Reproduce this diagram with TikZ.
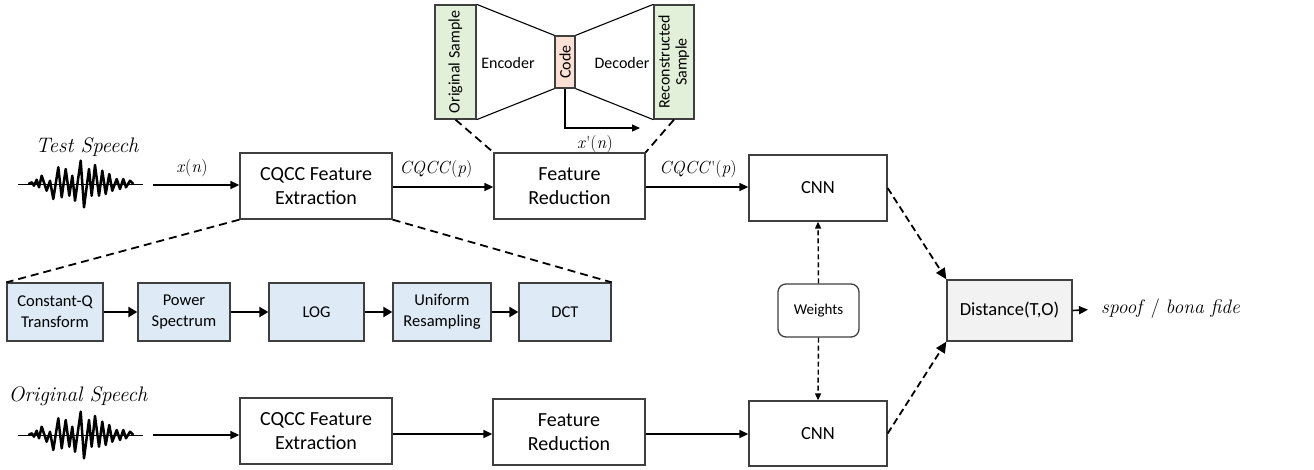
\documentclass[tikz,border=0pt]{standalone}
\usepackage{fontspec}
\setsansfont{Carlito}
\usetikzlibrary{arrows.meta}
\definecolor{bordc}{HTML}{3F3F3F}
\definecolor{bluef}{HTML}{DEEBF7}
\definecolor{greenf}{HTML}{E2F0D9}
\definecolor{peachf}{HTML}{FBE0D5}
\definecolor{grayf}{HTML}{F2F2F2}
\tikzset{
 mbox/.style={draw=bordc, line width=1.3pt, fill=white, align=center, inner sep=0pt,
   font=\sffamily\fontsize{20}{24}\selectfont},
 cbox/.style={mbox, font=\sffamily\fontsize{18.5}{22}\selectfont},
 bbox/.style={draw=bordc, line width=1.3pt, fill=bluef, align=center, inner sep=0pt,
   minimum height=58pt, font=\sffamily\fontsize{16.5}{21}\selectfont},
 aebox/.style={draw=bordc, line width=1.3pt, inner sep=0pt, align=center,
   font=\sffamily\fontsize{16}{20}\selectfont},
 aetext/.style={inner sep=0pt, font=\sffamily\fontsize{16}{20}\selectfont},
 lbl/.style={inner sep=0pt, font=\fontsize{17.5}{20}\selectfont},
 biglbl/.style={inner sep=0pt, font=\fontsize{21}{24}\selectfont\itshape},
 arr/.style={line width=1.6pt, -{Triangle[length=9pt,width=8pt]}},
 thinarr/.style={line width=1.2pt, -{Triangle[length=8pt,width=7pt]}},
 barr/.style={line width=2.8pt, -{Triangle[length=9pt,width=10pt]}},
 dline/.style={line width=1.8pt, dash pattern=on 8pt off 5pt},
 darr/.style={line width=1.8pt, dash pattern=on 7pt off 4pt, -{Triangle[length=11pt,width=10pt]}},
 wdarr/.style={line width=1.4pt, dash pattern=on 5pt off 3pt, -{Triangle[length=7pt,width=6pt]}},
 speechwave/.pic={
   \draw[line width=0.9pt] (18,0) -- (143,0);
   \draw[line width=2.5pt, line join=round]
     (28.3,0) -- (31.7,-1.7) -- (34,1.7) -- (36.7,-4.3) -- (39,3.3) -- (41.7,-8.3)
     -- (46.7,6.7) -- (50,-3.3) -- (53.3,15) -- (58.3,-16.7) -- (61.7,13.3) -- (65.7,-15)
     -- (69.3,11.7) -- (72.3,-8.3) -- (75,16.7) -- (80.7,-23.3) -- (84,23.3) -- (89,-15)
     -- (91.7,11.7) -- (95,-19) -- (99,11.7) -- (102.3,-13.3) -- (105.7,10) -- (109.3,-10)
     -- (112.3,6.7) -- (116.7,-5) -- (120,5) -- (123.3,-5) -- (126,3.3) -- (130,-3.3) -- (133.3,0);
 },
}
\begin{document}
\begin{tikzpicture}[x=1pt,y=-1pt]
\useasboundingbox (0,0) rectangle (1314,469);

% ---------- waveforms ----------
\pic (wv1) at (0,184) {speechwave};
\pic (wv2) at (0,435) {speechwave};

\node[biglbl] (tlab) at (87,147) {Test Speech};
\node[biglbl] (olab) at (78,396) {Original Speech};
\coordinate (w1) at (153,185);
\coordinate (w2) at (153,435);

% ---------- top row ----------
\node[mbox, minimum width=152pt, minimum height=66pt] (fe1) at (316,186) {CQCC Feature\\Extraction};
\node[mbox, minimum width=151pt, minimum height=66pt] (fr1) at (569.5,186) {Feature\\Reduction};
\node[cbox, minimum width=138pt, minimum height=66pt] (cnn1) at (818,188) {CNN};

% ---------- bottom row ----------
\node[mbox, minimum width=152pt, minimum height=66pt] (fe2) at (316,431) {CQCC Feature\\Extraction};
\node[mbox, minimum width=152pt, minimum height=66pt] (fr2) at (569,432) {Feature\\Reduction};
\node[cbox, minimum width=138pt, minimum height=65pt] (cnn2) at (818,433.5) {CNN};

% ---------- weights & distance ----------
\node[draw=bordc, line width=1.3pt, rounded corners=8pt, inner sep=0pt, minimum width=81pt, minimum height=53pt,
  font=\sffamily\fontsize{15}{18}\selectfont] (wts) at (818.5,310.5) {Weights};
\node[cbox, fill=grayf, minimum width=125pt, minimum height=61pt] (dist) at (1009.5,310.5) {Distance(T,O)};
\node[inner sep=0pt, anchor=west, font=\fontsize{19.5}{22}\selectfont] (out) at (1101,309) {\textit{spoof} / \textit{bona fide}};

% ---------- connectors ----------
\draw[arr] (w1) -- (fe1.west |- w1);
\node[lbl] (xn) at (192,168) {\textit{x}(\textit{n})};
\draw[arr] (fe1.east |- 0,187) -- (fr1.west |- 0,187);
\node[lbl] (cq) at (436,169) {\textit{CQCC}(\textit{p})};
\draw[arr] (fr1.east |- 0,187) -- (cnn1.west |- 0,187);
\node[lbl] (cqp) at (698,169) {\textit{CQCC}\textquotesingle(\textit{p})};

\draw[arr] (w2) -- (fe2.west |- w2);
\draw[arr] (fe2.east |- 0,434) -- (fr2.west |- 0,434);
\draw[arr] (fr2.east |- 0,434) -- (cnn2.west |- 0,434);

\draw[wdarr] (wts.north) -- (cnn1.south);
\draw[wdarr] (wts.south) -- (cnn2.north);
\draw[darr] (cnn1.east) -- (dist.north west);
\draw[darr] (cnn2.east) -- (dist.south west);
\draw[arr, shorten >=13pt] (dist.east) -- (out.west);

% ---------- CQCC pipeline ----------
\node[bbox, minimum width=96pt] (b1) at (55,312) {Constant-Q\\Transform};
\node[bbox, minimum width=92pt] (b2) at (184,312) {Power\\Spectrum};
\node[bbox, minimum width=95pt] (b3) at (316.5,312) {LOG};
\node[bbox, minimum width=98pt] (b4) at (442,312) {Uniform\\Resampling};
\node[bbox, minimum width=92pt] (b5) at (565,312) {DCT};
\draw[barr] (b1) -- (b2);
\draw[barr] (b2) -- (b3);
\draw[barr] (b3) -- (b4);
\draw[barr] (b4) -- (b5);
\draw[dline] (fe1.south west) -- (b1.north west);
\draw[dline] (fe1.south east) -- (b5.north east);

% ---------- autoencoder ----------
\node[aebox, fill=greenf, minimum width=41pt, minimum height=114pt] (os) at (455.5,62)
  {\rotatebox{90}{Original Sample}};
\node[aebox, fill=peachf, minimum width=20pt, minimum height=52pt] (code) at (565,62)
  {\rotatebox{90}{Code}};
\node[aebox, fill=greenf, minimum width=40pt, minimum height=114pt] (rs) at (674,62)
  {\rotatebox{90}{\begin{tabular}{@{}c@{}}Reconstructed\\[-3pt]Sample\end{tabular}}};
\draw[line width=1.1pt, draw=black] (os.north east) -- (code.north west);
\draw[line width=1.1pt, draw=black] (os.south east) -- (code.south west);
\draw[line width=1.1pt, draw=black] (code.north east) -- (rs.north west);
\draw[line width=1.1pt, draw=black] (code.south east) -- (rs.south west);
\node[aetext] (enc) at (508,63) {Encoder};
\node[aetext] (dec) at (622,63) {Decoder};
\coordinate (xpe) at (640,128);
\draw[thinarr] (code.south) |- (xpe);
\node[lbl] (xpn) at (595,144) {\textit{x}\textquotesingle(\textit{n})};
\draw[dline] (os.south) -- (fr1.north west);
\draw[dline] (rs.south) -- (fr1.north east);
\end{tikzpicture}
\end{document}
